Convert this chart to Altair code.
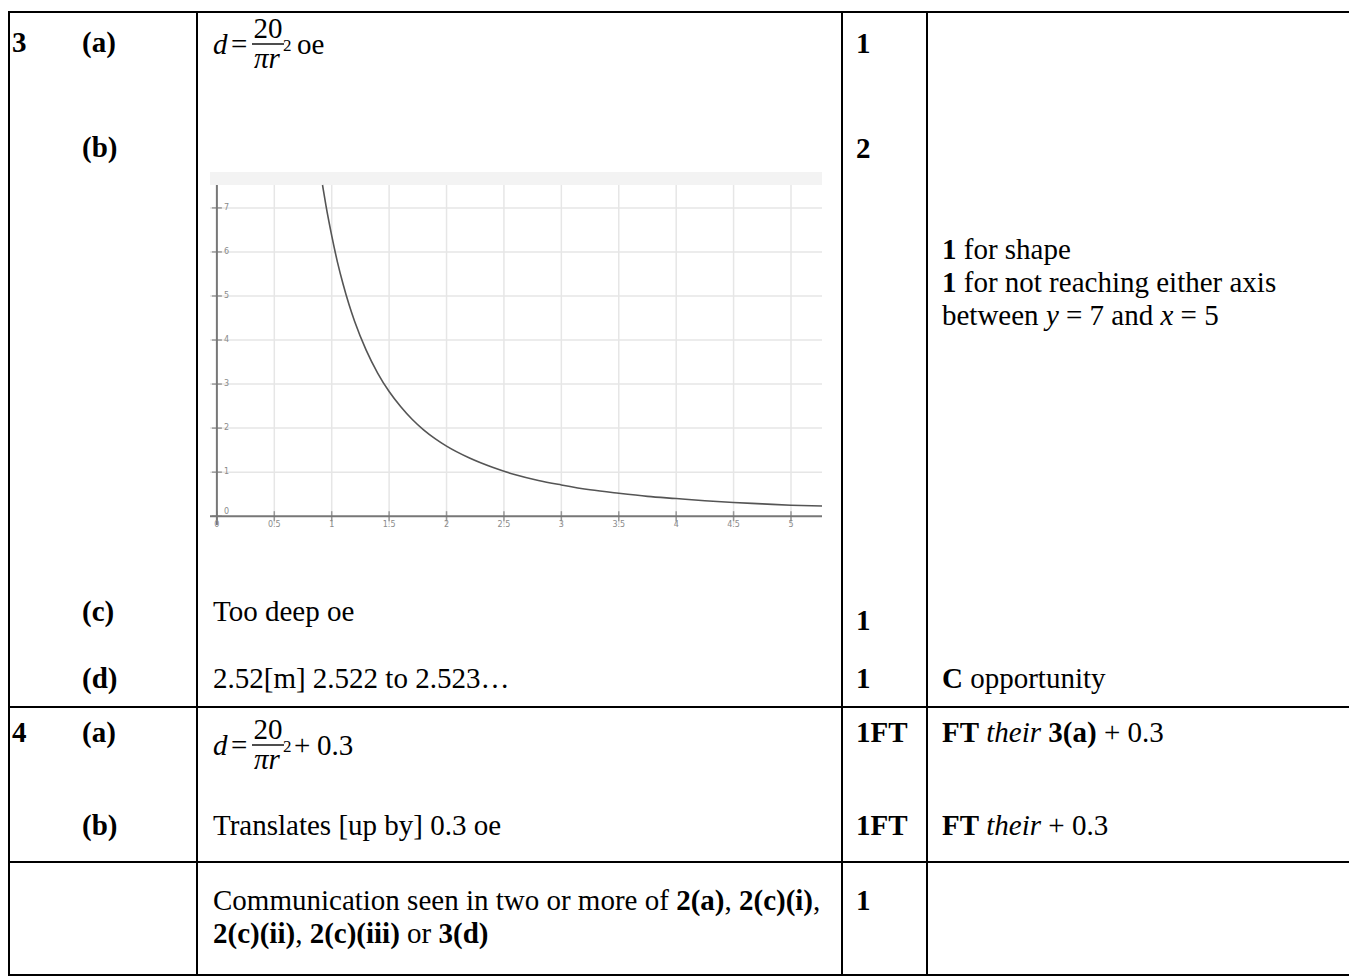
import altair as alt
import pandas as pd

# ============================== DATA ==============================
question_numbers = ["3", "4"]
part_labels = ["(a)", "(b)", "(c)", "(d)", "(a)", "(b)"]
mark_values = ["1", "2", "1", "1", "1FT", "1FT", "1"]

answer_lines = [
    [("Too deep oe", "r")],
    [("2.52[m] 2.522 to 2.523…", "r")],
    [("Translates [up by] 0.3 oe", "r")],
    [("Communication seen in two or more of ", "r"), ("2(a)", "b"), (", ", "r"),
     ("2(c)(i)", "b"), (",", "r")],
    [("2(c)(ii)", "b"), (", ", "r"), ("2(c)(iii)", "b"), (" or ", "r"), ("3(d)", "b")],
]
guidance_lines = [
    [("1", "b"), (" for shape", "r")],
    [("1", "b"), (" for not reaching either axis", "r")],
    [("between ", "r"), ("y", "i"), (" = 7 and ", "r"), ("x", "i"), (" = 5", "r")],
    [("C", "b"), (" opportunity", "r")],
    [("FT", "b"), (" ", "r"), ("their", "i"), (" ", "r"), ("3(a)", "b"), (" + 0.3", "r")],
    [("FT", "b"), (" ", "r"), ("their", "i"), (" + 0.3", "r")],
]
formula_lhs = "d"
formula_eq = "="
formula_num = "20"
formula_den = "πr"
formula_pow = "2"
formula_tail_3a = ["oe"]
formula_tail_4a = ["+", "0.3"]

# curve d = 20/(pi r^2)
curve_r = [0.92, 0.95, 1.0, 1.05, 1.1, 1.15, 1.2, 1.3, 1.4, 1.5, 1.6, 1.7, 1.8, 1.9,
           2.0, 2.2, 2.4, 2.6, 2.8, 3.0, 3.25, 3.5, 3.75, 4.0, 4.25, 4.5, 4.75, 5.0, 5.27]
curve_d = [7.52, 7.05, 6.37, 5.77, 5.26, 4.81, 4.42, 3.77, 3.25, 2.83, 2.49, 2.20, 1.96, 1.76,
           1.59, 1.32, 1.11, 0.94, 0.81, 0.71, 0.60, 0.52, 0.45, 0.40, 0.35, 0.31, 0.28, 0.25, 0.23]
x_ticks = [0, 0.5, 1, 1.5, 2, 2.5, 3, 3.5, 4, 4.5, 5]
x_tick_labels = ["0", "0.5", "1", "1.5", "2", "2.5", "3", "3.5", "4", "4.5", "5"]
y_ticks = [0, 1, 2, 3, 4, 5, 6, 7]
y_tick_labels = ["0", "1", "2", "3", "4", "5", "6", "7"]

# ============================== LAYOUT (page pixels) ==============================
M = 8
W_CHART, H_CHART = 1341, 968
FONT = "Liberation Serif"
FS = 29

col_x = [9, 197, 842, 927]
row_y = [12, 707, 862, 975]
right_edge = 1357

q_pos = [(12, 52), (12, 742)]
part_pos = [(82, 52), (82, 157), (82, 621), (82, 688), (82, 742), (82, 835)]
mark_pos = [(856, 53), (856, 158), (856, 630), (856, 688), (856, 742), (856, 835), (856, 910)]
answer_pos = [(213, 621), (213, 688), (213, 835), (213, 910), (213, 943)]
guide_pos = [(942, 259), (942, 292), (942, 325), (942, 688), (942, 742), (942, 835)]
formula_base = [(213, 54), (213, 755)]

g_left, g_right, g_top, g_bottom, g_band_top = 210, 822, 185, 525, 172
g_xdom = [-0.06, 5.27]
g_ydom = [-0.2, 7.52]

# Times / Liberation Serif advance widths (1/1000 em)
W = {
    "r": dict(zip(" ()+,.=[]…", [250, 333, 333, 564, 250, 250, 564, 333, 333, 1000])),
    "b": dict(zip(" ()+,.", [250, 333, 333, 570, 250, 250])),
    "i": dict(zip(" ", [250])),
}
W["r"].update(dict(zip("abcdefghijklmnopqrstuvwxyz",
                       [444, 500, 444, 500, 444, 333, 500, 500, 278, 278, 500, 278, 778, 500,
                        500, 500, 500, 333, 389, 278, 500, 500, 722, 500, 500, 444])))
W["r"].update({"C": 667, "F": 556, "T": 611})
W["b"].update(dict(zip("abcdehirt", [500, 556, 444, 556, 444, 556, 278, 444, 333])))
W["b"].update({"C": 722, "F": 611, "T": 667})
W["i"].update(dict(zip("abcdehirtxy", [500, 500, 444, 500, 444, 500, 278, 389, 278, 444, 444])))


def tw(s, st, size=FS):
    return sum(W[st].get(ch, 500) for ch in s) * size / 1000.0


rows = []


def add(text, x, y, st="r", size=FS, align="left"):
    rows.append(dict(text=text, x=x - M, y=y - M, st=st, size=size, align=align))


def add_line(runs, x0, y):
    x = x0
    for text, st in runs:
        lead = len(text) - len(text.lstrip(" "))
        x += lead * W[st][" "] * FS / 1000.0
        body = text.strip(" ")
        if body:
            add(body, x, y, st)
        x += tw(text.lstrip(" "), st)


for t, (x, y) in zip(question_numbers, q_pos):
    add(t, x, y, "b")
for t, (x, y) in zip(part_labels, part_pos):
    add(t, x, y, "b")
for t, (x, y) in zip(mark_values, mark_pos):
    add(t, x, y, "b")
for runs, (x, y) in zip(answer_lines, answer_pos):
    add_line(runs, x, y)
for runs, (x, y) in zip(guidance_lines, guide_pos):
    add_line(runs, x, y)

bars = []
for k, (x0, b) in enumerate(formula_base):
    add(formula_lhs, x0, b, "i")
    add(formula_eq, x0 + 18, b, "r")
    add(formula_num, x0 + 55, b - 16, "r", FS, "center")
    add(formula_den, x0 + 54, b + 14, "i", FS, "center")
    add(formula_pow, x0 + 70, b - 3, "r", 17)
    bars.append(dict(x=x0 + 39 - M, x2=x0 + 71 - M, y=b - 10 - M, y2=b - 10 - M))
    if k == 0:
        add(formula_tail_3a[0], x0 + 84, b, "r")
    else:
        add(formula_tail_4a[0], x0 + 81, b, "r")
        add(formula_tail_4a[1], x0 + 104, b, "r")

text_df = pd.DataFrame(rows)

lines = []
for cx in col_x:
    lines.append(dict(x=cx - M, x2=cx - M, y=row_y[0] - M, y2=row_y[-1] - M))
for ry in row_y:
    lines.append(dict(x=col_x[0] - M, x2=right_edge - M, y=ry - M, y2=ry - M))
lines_df = pd.DataFrame(lines)
bars_df = pd.DataFrame(bars)

# ============================== CHART ==============================
XN = alt.X("x:Q", scale=None, axis=None)
YN = alt.Y("y:Q", scale=None, axis=None)

layers = []

# ---- embedded graph ----
gx = alt.Scale(domain=g_xdom, range=[g_left - M, g_right - M], nice=False, zero=False)
gy = alt.Scale(domain=g_ydom, range=[g_bottom - M, g_top - M], nice=False, zero=False)

layers.append(alt.Chart(pd.DataFrame({"a": [0]})).mark_rect(color="#f3f3f3").encode(
    x=alt.value(g_left - M), x2=alt.value(g_right - M),
    y=alt.value(g_band_top - M), y2=alt.value(g_top - M)))

xg_df = pd.DataFrame({"v": x_ticks[1:]})
yg_df = pd.DataFrame({"v": y_ticks[1:]})
layers.append(alt.Chart(xg_df).mark_rule(color="#e6e6e6", strokeWidth=1.5).encode(
    x=alt.X("v:Q", scale=gx, axis=None),
    y=alt.value(g_top - M), y2=alt.value(g_bottom - M)))
layers.append(alt.Chart(yg_df).mark_rule(color="#e6e6e6", strokeWidth=1.5).encode(
    y=alt.Y("v:Q", scale=gy, axis=None),
    x=alt.value(g_left - M), x2=alt.value(g_right - M)))

# axis lines through the origin
layers.append(alt.Chart(pd.DataFrame({"v": [0]})).mark_rule(color="#777", strokeWidth=2).encode(
    x=alt.X("v:Q", scale=gx, axis=None),
    y=alt.value(g_top - M), y2=alt.value(g_bottom - M)))
layers.append(alt.Chart(pd.DataFrame({"v": [0]})).mark_rule(color="#777", strokeWidth=2).encode(
    y=alt.Y("v:Q", scale=gy, axis=None),
    x=alt.value(g_left - M), x2=alt.value(g_right - M)))

# tick marks
xt_df = pd.DataFrame({"v": x_ticks, "lab": x_tick_labels})
yt_df = pd.DataFrame({"v": y_ticks, "lab": y_tick_labels})
layers.append(alt.Chart(xt_df).mark_tick(color="#777", thickness=1.5, size=10,
                                         orient="vertical").encode(
    x=alt.X("v:Q", scale=gx, axis=None), y=alt.Y("z:Q", scale=gy, axis=None)
).transform_calculate(z="0"))
layers.append(alt.Chart(yt_df).mark_tick(color="#777", thickness=1.5, size=10,
                                         orient="horizontal").encode(
    y=alt.Y("v:Q", scale=gy, axis=None), x=alt.X("z:Q", scale=gx, axis=None)
).transform_calculate(z="0"))

# tick labels
LBL = dict(font="DejaVu Sans", fontSize=8, color="#8a8a8a")
layers.append(alt.Chart(xt_df).mark_text(baseline="top", dy=5, **LBL).encode(
    x=alt.X("v:Q", scale=gx, axis=None), y=alt.Y("z:Q", scale=gy, axis=None), text="lab:N"
).transform_calculate(z="0"))
layers.append(alt.Chart(yt_df[yt_df.v > 0]).mark_text(align="left", baseline="middle", dx=7,
                                                      **LBL).encode(
    y=alt.Y("v:Q", scale=gy, axis=None), x=alt.X("z:Q", scale=gx, axis=None), text="lab:N"
).transform_calculate(z="0"))
layers.append(alt.Chart(yt_df[yt_df.v == 0]).mark_text(align="left", baseline="bottom", dx=7,
                                                       **LBL).encode(
    y=alt.Y("v:Q", scale=gy, axis=None), x=alt.X("z:Q", scale=gx, axis=None), text="lab:N"
).transform_calculate(z="0"))

# curve
curve_df = pd.DataFrame({"r": curve_r, "d": curve_d})
layers.append(alt.Chart(curve_df).mark_line(color="#555", strokeWidth=1.6,
                                            interpolate="monotone", clip=True).encode(
    x=alt.X("r:Q", scale=gx, axis=None), y=alt.Y("d:Q", scale=gy, axis=None), order="r:Q"))

# ---- table lines ----
layers.append(alt.Chart(lines_df).mark_rule(color="black", strokeWidth=2, strokeCap="square").encode(
    x=XN, x2="x2:Q", y=YN, y2="y2:Q"))
layers.append(alt.Chart(bars_df).mark_rule(color="black", strokeWidth=1.4).encode(
    x=XN, x2="x2:Q", y=YN, y2="y2:Q"))

# ---- text ----
style_map = {"r": ("normal", "normal"), "b": ("bold", "normal"), "i": ("normal", "italic")}
for (st, size, align), sub in text_df.groupby(["st", "size", "align"]):
    fw, fsty = style_map[st]
    layers.append(alt.Chart(sub).mark_text(font=FONT, fontSize=int(size), fontWeight=fw,
                                           fontStyle=fsty, align=align, baseline="alphabetic",
                                           color="black").encode(
        x=XN, y=YN, text="text:N"))

chart = alt.layer(*layers).resolve_scale(x="independent", y="independent").properties(
    width=W_CHART, height=H_CHART, padding=0,
    autosize=alt.AutoSizeParams(type="none"),
    background="white",
).configure_view(strokeWidth=0)

chart.save("out.html", embed_options={"renderer": "svg", "actions": False})
